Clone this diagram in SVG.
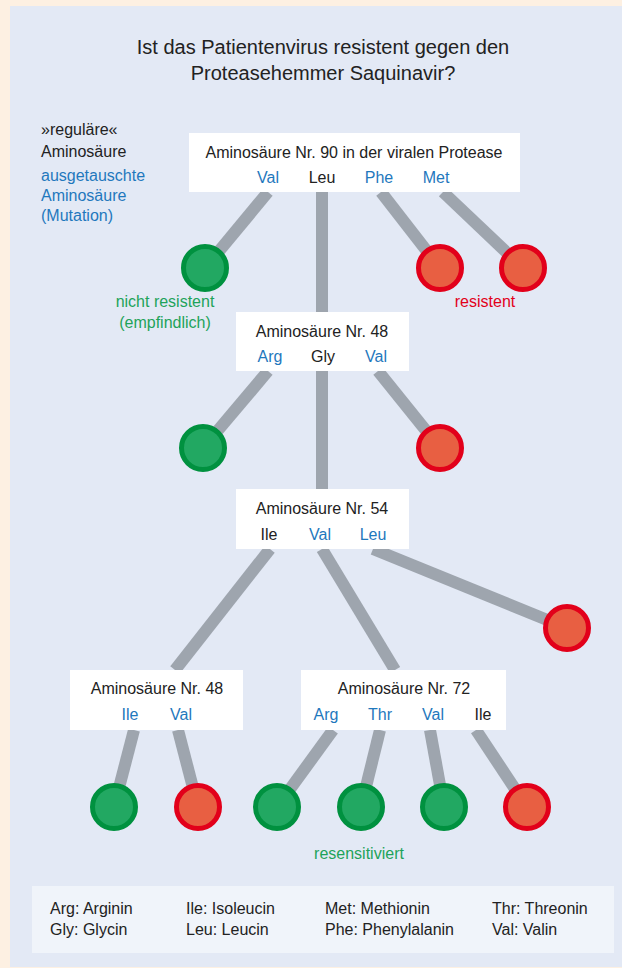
<svg xmlns="http://www.w3.org/2000/svg" width="622" height="968" viewBox="0 0 622 968">
<style>
text{font-family:"Liberation Sans","Noto Sans",sans-serif;font-size:16px;fill:#222}
.t{font-size:20px}
.c{text-anchor:middle}
.b{fill:#1f78bd}
.g{fill:#1ea35a}
.r{fill:#e2001a}
.box{fill:#fff}
.ln{stroke:#9ea5ae;stroke-width:12;fill:none}
.ok{fill:#22a862;stroke:#00913f;stroke-width:5}
.bad{fill:#e85f42;stroke:#e2001a;stroke-width:5}
</style>
<rect x="0" y="0" width="622" height="968" fill="#fdf0e2"/>
<rect x="10" y="6" width="612" height="961" fill="#e3e9f5"/>
<g id="title">
<text class="t c" x="323" y="54">Ist das Patientenvirus resistent gegen den</text>
<text class="t c" x="323" y="80">Proteasehemmer Saquinavir?</text>
</g>
<g id="key">
<text x="41" y="135">»reguläre«</text>
<text x="41" y="157">Aminosäure</text>
<text class="b" x="41" y="181">ausgetauschte</text>
<text class="b" x="41" y="201">Aminosäure</text>
<text class="b" x="41" y="221">(Mutation)</text>
</g>
<g id="connectors">
<line class="ln" x1="268" y1="192" x2="205" y2="268"/>
<line class="ln" x1="322" y1="192" x2="322" y2="312"/>
<line class="ln" x1="381" y1="192" x2="440" y2="268"/>
<line class="ln" x1="443" y1="192" x2="523" y2="268"/>
<line class="ln" x1="268" y1="371" x2="203" y2="448"/>
<line class="ln" x1="322" y1="371" x2="322" y2="489"/>
<line class="ln" x1="378" y1="371" x2="440" y2="448"/>
<line class="ln" x1="270" y1="549" x2="175" y2="670"/>
<line class="ln" x1="322" y1="549" x2="395" y2="670"/>
<line class="ln" x1="373" y1="549" x2="567" y2="628"/>
<line class="ln" x1="134" y1="730" x2="114" y2="807"/>
<line class="ln" x1="178" y1="730" x2="198" y2="807"/>
<line class="ln" x1="333" y1="730" x2="277" y2="807"/>
<line class="ln" x1="380" y1="730" x2="361" y2="807"/>
<line class="ln" x1="430" y1="730" x2="444" y2="807"/>
<line class="ln" x1="476" y1="730" x2="527" y2="807"/>
</g>
<g id="n90">
<rect class="box" x="189" y="133" width="331" height="59"/>
<text class="c" x="354" y="158">Aminosäure Nr. 90 in der viralen Protease</text>
<text class="c b" x="268" y="183">Val</text>
<text class="c" x="322" y="183">Leu</text>
<text class="c b" x="379" y="183">Phe</text>
<text class="c b" x="436" y="183">Met</text>
</g>
<g id="o1"><circle class="ok" cx="205" cy="268" r="21.5"/></g>
<g id="o2"><circle class="bad" cx="440" cy="268" r="21.5"/></g>
<g id="o3"><circle class="bad" cx="523" cy="268" r="21.5"/></g>
<g id="lab1">
<text class="c g" x="165" y="307">nicht resistent</text>
<text class="c g" x="165" y="328">(empfindlich)</text>
</g>
<g id="lab2"><text class="c r" x="485" y="307">resistent</text></g>
<g id="n48a">
<rect class="box" x="236" y="312" width="173" height="59"/>
<text class="c" x="322" y="337">Aminosäure Nr. 48</text>
<text class="c b" x="270" y="362">Arg</text>
<text class="c" x="323" y="362">Gly</text>
<text class="c b" x="376" y="362">Val</text>
</g>
<g id="o4"><circle class="ok" cx="203" cy="448" r="21.5"/></g>
<g id="o5"><circle class="bad" cx="440" cy="448" r="21.5"/></g>
<g id="n54">
<rect class="box" x="236" y="489" width="173" height="60"/>
<text class="c" x="322" y="514">Aminosäure Nr. 54</text>
<text class="c" x="269" y="540">Ile</text>
<text class="c b" x="320" y="540">Val</text>
<text class="c b" x="373" y="540">Leu</text>
</g>
<g id="o6"><circle class="bad" cx="567" cy="628" r="21.5"/></g>
<g id="n48b">
<rect class="box" x="70" y="670" width="173" height="60"/>
<text class="c" x="157" y="694">Aminosäure Nr. 48</text>
<text class="c b" x="130" y="720">Ile</text>
<text class="c b" x="181" y="720">Val</text>
</g>
<g id="n72">
<rect class="box" x="301" y="670" width="205" height="60"/>
<text class="c" x="404" y="694">Aminosäure Nr. 72</text>
<text class="c b" x="326" y="720">Arg</text>
<text class="c b" x="380" y="720">Thr</text>
<text class="c b" x="433" y="720">Val</text>
<text class="c" x="483" y="720">Ile</text>
</g>
<g id="o7"><circle class="ok" cx="114" cy="807" r="21.5"/></g>
<g id="o8"><circle class="bad" cx="198" cy="807" r="21.5"/></g>
<g id="o9"><circle class="ok" cx="277" cy="807" r="21.5"/></g>
<g id="o10"><circle class="ok" cx="361" cy="807" r="21.5"/></g>
<g id="o11"><circle class="ok" cx="444" cy="807" r="21.5"/></g>
<g id="o12"><circle class="bad" cx="527" cy="807" r="21.5"/></g>
<g id="lab3"><text class="c g" x="359" y="859">resensitiviert</text></g>
<g id="legend">
<rect x="32" y="886" width="582" height="67" fill="#f0f4fa"/>
<text x="50" y="914">Arg: Arginin</text>
<text x="50" y="935">Gly: Glycin</text>
<text x="186" y="914">Ile: Isoleucin</text>
<text x="186" y="935">Leu: Leucin</text>
<text x="325" y="914">Met: Methionin</text>
<text x="325" y="935">Phe: Phenylalanin</text>
<text x="492" y="914">Thr: Threonin</text>
<text x="492" y="935">Val: Valin</text>
</g>
</svg>
